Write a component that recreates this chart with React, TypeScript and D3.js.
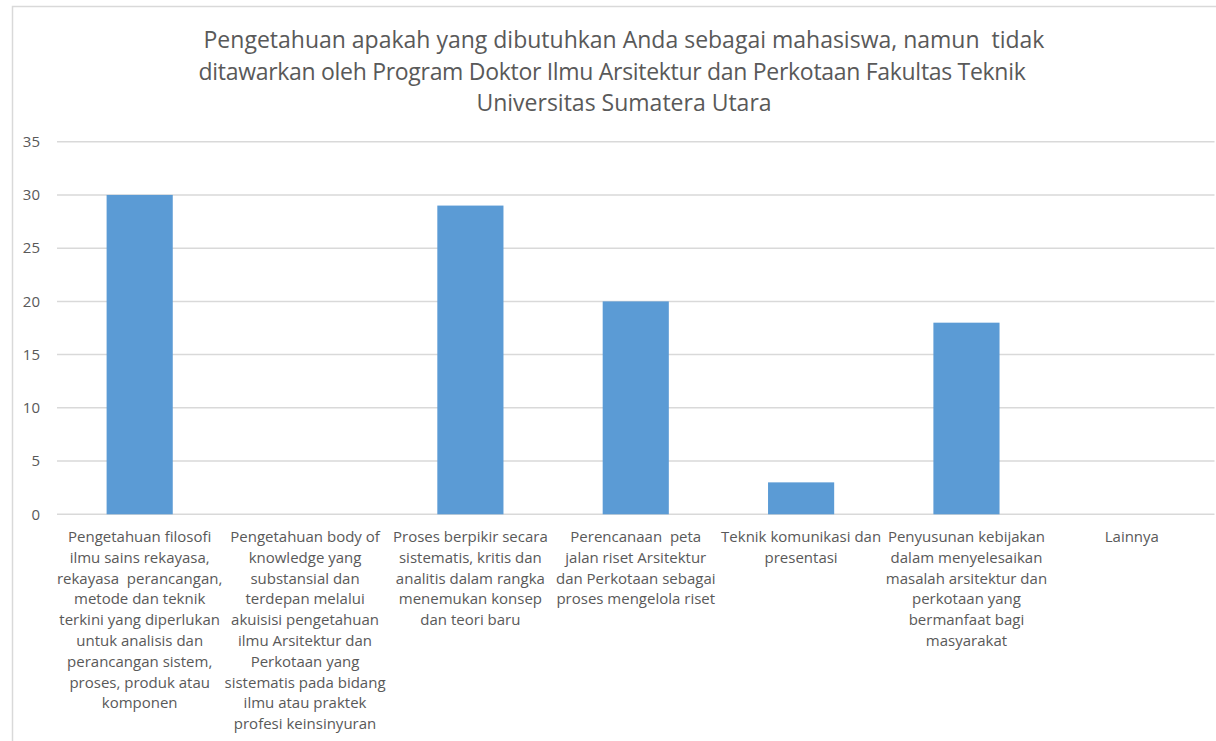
import React from "react";
import * as d3 from "d3";

const titleLines = [
  "Pengetahuan apakah yang dibutuhkan Anda sebagai mahasiswa, namun  tidak",
  "ditawarkan oleh Program Doktor Ilmu Arsitektur dan Perkotaan Fakultas Teknik",
  "Universitas Sumatera Utara",
];

const categories = [
  "Pengetahuan filosofi ilmu sains rekayasa, rekayasa  perancangan, metode dan teknik terkini yang diperlukan untuk analisis dan perancangan sistem, proses, produk atau komponen",
  "Pengetahuan body of knowledge yang substansial dan terdepan melalui akuisisi pengetahuan ilmu Arsitektur dan Perkotaan yang sistematis pada bidang ilmu atau praktek profesi keinsinyuran",
  "Proses berpikir secara sistematis, kritis dan analitis dalam rangka menemukan konsep dan teori baru",
  "Perencanaan  peta jalan riset Arsitektur dan Perkotaan sebagai proses mengelola riset",
  "Teknik komunikasi dan presentasi",
  "Penyusunan kebijakan dalam menyelesaikan masalah arsitektur dan perkotaan yang bermanfaat bagi masyarakat",
  "Lainnya",
];

const categoryLines = [
  ["Pengetahuan filosofi", "ilmu sains rekayasa,", "rekayasa  perancangan,", "metode dan teknik", "terkini yang diperlukan", "untuk analisis dan", "perancangan sistem,", "proses, produk atau", "komponen"],
  ["Pengetahuan body of", "knowledge yang", "substansial dan", "terdepan melalui", "akuisisi pengetahuan", "ilmu Arsitektur dan", "Perkotaan yang", "sistematis pada bidang", "ilmu atau praktek", "profesi keinsinyuran"],
  ["Proses berpikir secara", "sistematis, kritis dan", "analitis dalam rangka", "menemukan konsep", "dan teori baru"],
  ["Perencanaan  peta", "jalan riset Arsitektur", "dan Perkotaan sebagai", "proses mengelola riset"],
  ["Teknik komunikasi dan", "presentasi"],
  ["Penyusunan kebijakan", "dalam menyelesaikan", "masalah arsitektur dan", "perkotaan yang", "bermanfaat bagi", "masyarakat"],
  ["Lainnya"],
];

const values = [30, 0, 29, 20, 3, 18, 0];

const yTicks = [0, 5, 10, 15, 20, 25, 30, 35];

const FONT = "'Open Sans', sans-serif";
const TEXT = "#595959";
const GRID = "#d9d9d9";
const BAR = "#5b9bd5";

export default function App() {
  const W = 1216;
  const H = 741;
  const left = 57;
  const right = 1214.5;
  const top = 141.7;
  const bottom = 514.3;

  const x = d3
    .scaleBand<string>()
    .domain(categories)
    .range([left, right])
    .paddingInner(0.6)
    .paddingOuter(0.3);

  const y = d3.scaleLinear().domain([0, 35]).range([bottom, top]);

  return (
    <svg
      width={W}
      height={H}
      style={{ position: "absolute", left: 0, top: 0, background: "#fff" }}
      fontFamily={FONT}
    >
      <rect x={12.5} y={6.5} width={1220} height={760} fill="#fff" stroke={GRID} strokeWidth={1.5} />
      <g fill={TEXT} fontSize={23} textAnchor="middle">
        <text x={624} y={48} xmlSpace="preserve" style={{ whiteSpace: "pre" }}>{titleLines[0]}</text>
        <text x={612} y={80} letterSpacing={-0.3} xmlSpace="preserve" style={{ whiteSpace: "pre" }}>{titleLines[1]}</text>
        <text x={624} y={111} xmlSpace="preserve" style={{ whiteSpace: "pre" }}>{titleLines[2]}</text>
      </g>
      <g>
        {yTicks.map((t) => (
          <g key={t}>
            <line x1={left} x2={right} y1={y(t)} y2={y(t)} stroke={GRID} strokeWidth={1.5} />
            <text x={40} y={y(t)} dy="0.35em" textAnchor="end" fontSize={15} fill={TEXT}>
              {t}
            </text>
          </g>
        ))}
      </g>
      <g>
        {categories.map((c, i) => (
          <rect
            key={c}
            x={x(c)}
            y={y(values[i])}
            width={x.bandwidth()}
            height={y(0) - y(values[i])}
            fill={BAR}
          />
        ))}
      </g>
      <g fontSize={15} fill={TEXT} textAnchor="middle">
        {categories.map((c, i) => {
          const cx = (x(c) as number) + x.bandwidth() / 2;
          return (
            <text key={c} x={cx} y={542} xmlSpace="preserve" style={{ whiteSpace: "pre" }}>
              {categoryLines[i].map((ln, j) => (
                <tspan key={j} x={cx} y={542 + j * 20.8}>
                  {ln}
                </tspan>
              ))}
            </text>
          );
        })}
      </g>
    </svg>
  );
}
